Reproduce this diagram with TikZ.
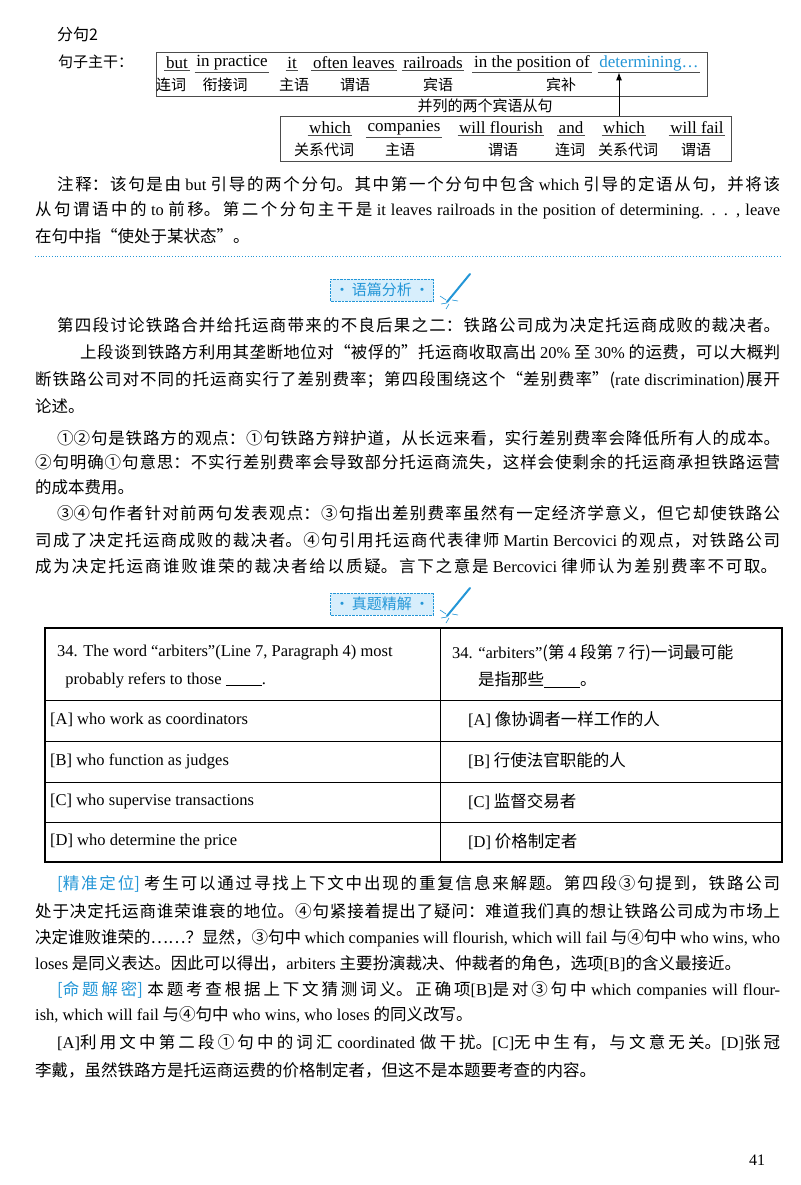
\documentclass[tikz,border=0pt]{standalone}
\usepackage{fontspec}
\usetikzlibrary{arrows.meta}
\setmainfont{Noto Sans CJK SC}
\newfontfamily\enf{Liberation Serif}
\newcommand{\en}[1]{{\enf #1}}
\XeTeXlinebreaklocale "zh"
\XeTeXlinebreakskip=0pt plus 6pt
\definecolor{cy}{RGB}{35,150,215}
\definecolor{cyfill}{RGB}{215,238,252}
\newcommand{\cyt}[1]{\textcolor{cy}{#1}}
\tikzset{
  txt/.style={anchor=west,inner sep=0pt,font=\fontsize{16.5}{18}\selectfont},
  wd/.style={inner sep=1.5pt,font=\enf\fontsize{17}{18}\selectfont},
  lb/.style={inner sep=0pt,font=\fontsize{15}{17}\selectfont},
  frame/.style={draw=black!70,line width=0.8pt},
  ul/.style={black!70,line width=0.6pt},
  hdr/.style={draw=cy,densely dotted,fill=cyfill,text=cy,inner sep=4pt,font=\fontsize{15}{17}\selectfont},
  opt/.style={anchor=west,inner sep=0pt,font=\enf\fontsize{16.5}{18}\selectfont},
}
\newcommand{\jl}[5]{\node[txt] (#1) at (#2,#3) {\parbox{#4pt}{\parfillskip=0pt\emergencystretch=40pt\tolerance=9999\noindent #5}};}
\newcommand{\pl}[4]{\node[txt] (#1) at (#2,#3) {#4};}
\begin{document}
\begin{tikzpicture}[x=1pt,y=-1pt]
\useasboundingbox (0,0) rectangle (800,1185);
\fill[white] (0,0) rectangle (800,1185);
% ---- top diagram
\node[anchor=west,inner sep=0,font=\fontsize{16}{18}\selectfont] (t1) at (57,34) {分句2};
\node[anchor=west,inner sep=0,font=\fontsize{15}{17}\selectfont] (t2) at (58,62) {句子主干：};
\draw[frame] (156,52) rectangle (707,96);
\foreach \n/\x/\t in {a/177/but,b/232/in practice,c/292/it,d/354/often leaves,e/433/railroads,f/532/in the position of}
  {\node[wd] (w\n) at (\x,63) {\t}; \draw[ul] (w\n.south west) -- (w\n.south east);}
\node[wd,text=cy] (wg) at (649,63) {determining\ldots};
\draw[ul] (wg.south west) -- (wg.south east);
\foreach \n/\x/\t in {a/171/连词,b/225/衔接词,c/294/主语,d/355/谓语,e/438/宾语,f/561/宾补}
  {\node[lb] (l\n) at (\x,85) {\t};}
\draw[frame] (280,116) rectangle (731,161);
\foreach \n/\x/\t in {a/330/which,b/404/companies,c/501/will flourish,d/571/and,e/624/which,f/697/will fail}
  {\node[wd] (v\n) at (\x,128) {\t}; \draw[ul] (v\n.south west) -- (v\n.south east);}
\foreach \n/\x/\t in {a/324/关系代词,b/400/主语,c/503/谓语,d/570/连词,e/628/关系代词,f/696/谓语}
  {\node[lb] (m\n) at (\x,150) {\t};}
\node[lb] (par) at (485,106) {并列的两个宾语从句};
\coordinate (arrS) at (619,116);
\draw[line width=0.9pt,-{Latex[length=8pt,width=6pt]}] (arrS) -- (wg.south -| arrS);
% ---- note
\jl{n1}{57}{184}{723}{注释：该句是由 \en{but} 引导的两个分句。其中第一个分句中包含 \en{which} 引导的定语从句，并将该}
\jl{n2}{35}{210}{745}{从句谓语中的 \en{to} 前移。第二个分句主干是 \en{it leaves railroads in the position of determining. . . , leave}}
\pl{n3}{35}{236}{在句中指“使处于某状态”。}
\draw[cy,dotted,line width=0.8pt] (35,256) -- (780,256);
% ---- header 1
\node[hdr] (h1) at (382,290) {·\,语篇分析\,·};
\draw[cy,line width=2pt,line cap=round] (447,302) -- (470,274);
\draw[cy,line width=0.6pt] (440,296)--(446,300) (441,304)--(447,303) (446,309)--(449,304) (452,300)--(458,301);
% ---- paragraphs
\jl{p1}{57}{325}{723}{第四段讨论铁路合并给托运商带来的不良后果之二：铁路公司成为决定托运商成败的裁决者。}
\jl{p2}{80}{352}{700}{上段谈到铁路方利用其垄断地位对“被俘的”托运商收取高出 \en{20\%} 至 \en{30\%} 的运费，可以大概判}
\jl{p3}{35}{380}{745}{断铁路公司对不同的托运商实行了差别费率；第四段围绕这个“差别费率”(\en{rate discrimination})展开}
\pl{p4}{35}{406}{论述。}
\jl{p5}{57}{438}{723}{①②句是铁路方的观点：①句铁路方辩护道，从长远来看，实行差别费率会降低所有人的成本。}
\jl{p6}{35}{462}{745}{②句明确①句意思：不实行差别费率会导致部分托运商流失，这样会使剩余的托运商承担铁路运营}
\pl{p7}{35}{487}{的成本费用。}
\jl{p8}{57}{513}{723}{③④句作者针对前两句发表观点：③句指出差别费率虽然有一定经济学意义，但它却使铁路公}
\jl{p9}{35}{540}{745}{司成了决定托运商成败的裁决者。④句引用托运商代表律师 \en{Martin Bercovici} 的观点，对铁路公司}
\jl{p10}{35}{566}{742}{成为决定托运商谁败谁荣的裁决者给以质疑。言下之意是 \en{Bercovici} 律师认为差别费率不可取。}
% ---- header 2
\node[hdr] (h2) at (382,604) {·\,真题精解\,·};
\draw[cy,line width=2pt,line cap=round] (447,616) -- (470,588);
\draw[cy,line width=0.6pt] (440,610)--(446,614) (441,618)--(447,617) (446,623)--(449,618) (452,614)--(458,615);
% ---- table
\draw[line width=1.3pt] (45,628) rectangle (782,862);
\draw[line width=0.6pt] (440,628) -- (440,862);
\foreach \y in {700,741,782,822} \draw[line width=0.6pt] (45,\y) -- (782,\y);
\node[opt] (q1) at (57,653) {34. The word “arbiters”(Line 7, Paragraph 4) most};
\node[opt] (q2) at (57,680) {\ \ probably refers to those \underline{\hspace{36pt}}.};
\node[txt] (r1) at (452,653) {\en{34. “arbiters”}(第 \en{4} 段第 \en{7} 行)一词最可能};
\node[txt] (r2) at (478,680) {是指那些\underline{\hspace{36pt}}。};
\node[opt] (oa) at (50,720) {[A] who work as coordinators};
\node[opt] (ob) at (50,761) {[B] who function as judges};
\node[opt] (oc) at (50,802) {[C] who supervise transactions};
\node[opt] (od) at (50,842) {[D] who determine the price};
\node[txt] (ra) at (468,720) {\en{[A]} 像协调者一样工作的人};
\node[txt] (rb) at (468,761) {\en{[B]} 行使法官职能的人};
\node[txt] (rc) at (468,802) {\en{[C]} 监督交易者};
\node[txt] (rd) at (468,842) {\en{[D]} 价格制定者};
% ---- bottom
\jl{b1}{57}{884}{723}{\cyt{[精准定位]} 考生可以通过寻找上下文中出现的重复信息来解题。第四段③句提到，铁路公司}
\jl{b2}{35}{911}{745}{处于决定托运商谁荣谁衰的地位。④句紧接着提出了疑问：难道我们真的想让铁路公司成为市场上}
\jl{b3}{35}{938}{745}{决定谁败谁荣的……？显然，③句中 \en{which companies will flourish, which will fail} 与④句中 \en{who wins, who}}
\pl{b4}{35}{964}{\en{loses} 是同义表达。因此可以得出，\en{arbiters} 主要扮演裁决、仲裁者的角色，选项\en{[B]}的含义最接近。}
\jl{b5}{57}{990}{723}{\cyt{[命题解密]} 本题考查根据上下文猜测词义。正确项\en{[B]}是对③句中 \en{which companies will flour-}}
\pl{b6}{35}{1015}{\en{ish, which will fail} 与④句中 \en{who wins, who loses} 的同义改写。}
\jl{b7}{57}{1043}{723}{\en{[A]}利用文中第二段①句中的词汇 \en{coordinated} 做干扰。\en{[C]}无中生有，与文意无关。\en{[D]}张冠}
\pl{b8}{35}{1070}{李戴，虽然铁路方是托运商运费的价格制定者，但这不是本题要考查的内容。}
\node[anchor=center,inner sep=0,font=\enf\fontsize{16}{18}\selectfont] (pg) at (757,1160) {41};
\end{tikzpicture}
\end{document}
